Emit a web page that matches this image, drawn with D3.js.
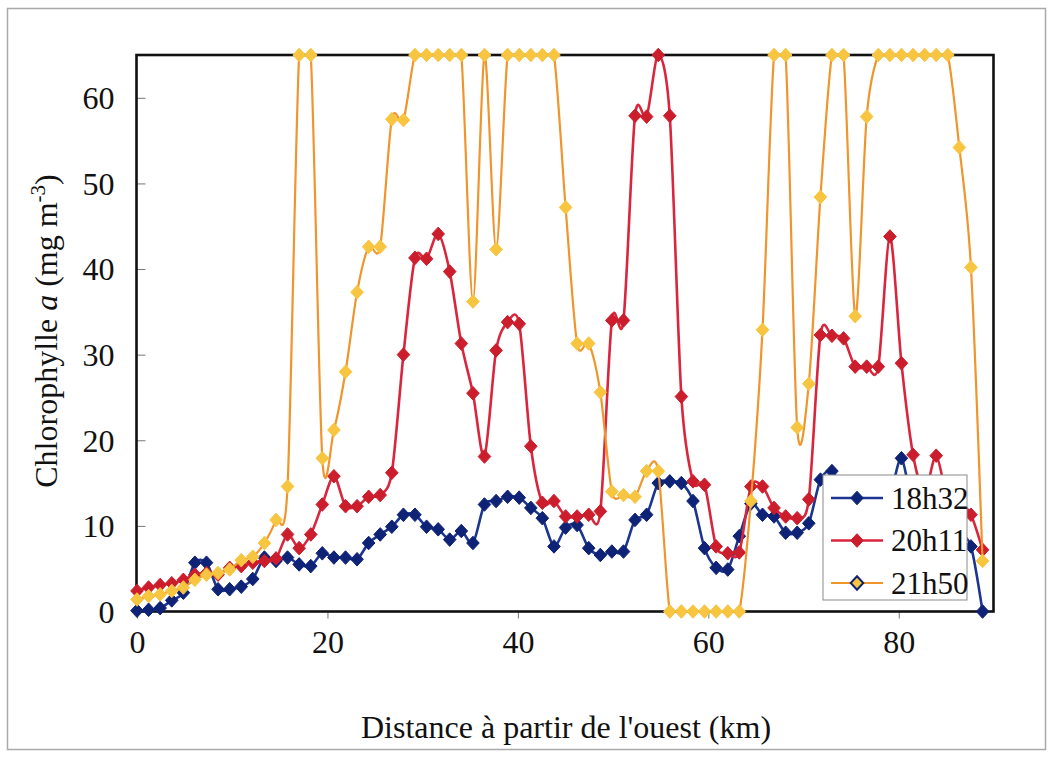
<!DOCTYPE html>
<html>
<head>
<meta charset="utf-8">
<script src="https://cdn.jsdelivr.net/npm/d3@7"></script>
<style>
  html, body { margin: 0; padding: 0; background: #ffffff; }
  svg { display: block; }
  text { font-family: "Liberation Serif", "Times New Roman", serif; fill: #111; }
</style>
</head>
<body>
<svg id="chart" width="1053" height="758"></svg>
<script>
// Sampling stations along the transect (km from the western end)
const distanceKm = [
  0, 1.22, 2.43, 3.65, 4.87, 6.08, 7.30, 8.51, 9.73, 10.95,
  12.16, 13.38, 14.60, 15.81, 17.03, 18.25, 19.46, 20.68, 21.90, 23.11,
  24.33, 25.54, 26.76, 27.98, 29.19, 30.41, 31.63, 32.84, 34.06, 35.28,
  36.49, 37.71, 38.92, 40.14, 41.36, 42.57, 43.79, 45.01, 46.22, 47.44,
  48.66, 49.87, 51.09, 52.30, 53.52, 54.74, 55.95, 57.17, 58.39, 59.60,
  60.82, 62.04, 63.25, 64.47, 65.69, 66.90, 68.12, 69.33, 70.55, 71.77,
  72.98, 74.20, 75.42, 76.63, 77.85, 79.07, 80.28, 81.50, 82.72, 83.93,
  85.15, 86.36, 87.58, 88.80
];

// Chlorophyll a (mg m-3), one array per passage time
const chl1832 = [
  0.1, 0.2, 0.4, 1.3, 2.2, 5.7, 5.7, 2.6, 2.6, 2.9,
  3.8, 6.3, 5.9, 6.3, 5.5, 5.3, 6.8, 6.3, 6.3, 6.1,
  8.0, 9.0, 9.9, 11.3, 11.3, 9.9, 9.6, 8.4, 9.4, 8.0,
  12.5, 12.9, 13.4, 13.3, 12.1, 10.9, 7.6, 9.8, 10.1, 7.4,
  6.6, 7.0, 7.0, 10.7, 11.3, 15.0, 15.2, 15.0, 12.9, 7.4,
  5.1, 4.9, 8.8, 12.6, 11.3, 11.1, 9.2, 9.2, 10.3, 15.4,
  16.4, 14.0, 12.5, 12.0, 12.5, 13.5, 17.9, 12.0, 10.0, 11.0,
  9.5, 9.0, 7.6, 0.0
];
const chl2011 = [
  2.4, 2.8, 3.1, 3.3, 3.7, 4.3, 4.5, 4.3, 5.1, 5.3,
  5.7, 5.9, 6.2, 9.0, 7.4, 9.0, 12.5, 15.8, 12.3, 12.3,
  13.4, 13.6, 16.2, 30.0, 41.3, 41.2, 44.1, 39.7, 31.3, 25.5,
  18.1, 30.5, 33.8, 33.6, 19.3, 12.7, 12.9, 11.1, 11.1, 11.3,
  11.7, 34.0, 34.0, 57.9, 57.8, 65.0, 57.9, 25.1, 15.2, 14.8,
  7.6, 6.8, 6.9, 14.6, 14.6, 12.1, 11.1, 10.9, 13.1, 32.3,
  32.2, 31.9, 28.6, 28.6, 28.6, 43.8, 29.0, 18.3, 14.0, 18.2,
  13.0, 12.8, 11.3, 7.2
];
const chl2150 = [
  1.4, 1.8, 2.0, 2.4, 2.8, 3.7, 4.3, 4.5, 4.9, 6.0,
  6.4, 8.0, 10.7, 14.6, 65, 65, 17.9, 21.2, 28.0, 37.3,
  42.6, 42.6, 57.5, 57.4, 65, 65, 65, 65, 65, 36.2,
  65, 42.3, 65, 65, 65, 65, 65, 47.2, 31.3, 31.3,
  25.6, 14.0, 13.6, 13.4, 16.4, 16.4, 0, 0, 0, 0,
  0, 0, 0, 12.9, 32.9, 65, 65, 21.5, 26.6, 48.4,
  65, 65, 34.5, 57.8, 65, 65, 65, 65, 65, 65,
  65, 54.2, 40.2, 5.9
];

const seriesNames = ["18h32", "20h11", "21h50"];
const xTicks = [0, 20, 40, 60, 80];
const yTicks = [0, 10, 20, 30, 40, 50, 60];

const styles = {
  "18h32": { line: "#1b3591", fill: "#0f2376", stroke: "#0f2376", width: 2.6 },
  "20h11": { line: "#d9263c", fill: "#cc1d2d", stroke: "#cc1d2d", width: 2.6 },
  "21h50": { line: "#f0952c", fill: "#f8c540", stroke: "#f8c540", width: 2.2 }
};

const series = [
  { name: seriesNames[0], values: chl1832 },
  { name: seriesNames[1], values: chl2011 },
  { name: seriesNames[2], values: chl2150 }
];

const svg = d3.select("#chart");
const plot = { left: 136.5, top: 55, right: 993.5, bottom: 611.5 };

const x = d3.scaleLinear().domain([0, 90]).range([137, 994]);
const y = d3.scaleLinear().domain([0, 65]).range([plot.bottom, plot.top]);

// outer frame of the figure
svg.append("rect")
  .attr("x", 7.5).attr("y", 8.5).attr("width", 1038).attr("height", 741)
  .attr("fill", "#fff").attr("stroke", "#a9a9a9").attr("stroke-width", 1.5);

// clip for the curves
svg.append("clipPath").attr("id", "plotClip")
  .append("rect")
  .attr("x", plot.left).attr("y", plot.top - 1)
  .attr("width", plot.right - plot.left).attr("height", plot.bottom - plot.top + 1);

// y axis ticks (inside) and labels
const yAxis = d3.axisLeft(y).tickValues(yTicks).tickSize(-9).tickPadding(22).tickFormat(d3.format("d"));
const gy = svg.append("g").attr("transform", `translate(${plot.left},0)`).call(yAxis);
gy.select(".domain").remove();
gy.selectAll(".tick line").attr("stroke", "#777").attr("stroke-width", 1);
gy.selectAll(".tick text").attr("font-size", 32).attr("font-family", "Liberation Serif").attr("fill", "#111").attr("dy", "0.34em");

// x axis ticks (outside) and labels
const xAxis = d3.axisBottom(x).tickValues(xTicks).tickSize(7).tickPadding(12).tickFormat(d3.format("d"));
const gx = svg.append("g").attr("transform", `translate(0,${plot.bottom})`).call(xAxis);
gx.select(".domain").remove();
gx.selectAll(".tick line").attr("stroke", "#777").attr("stroke-width", 1);
gx.selectAll(".tick text").attr("font-size", 32).attr("font-family", "Liberation Serif").attr("fill", "#111").attr("dy", "0.71em");

// plot area border
svg.append("rect")
  .attr("x", plot.left).attr("y", plot.top)
  .attr("width", plot.right - plot.left).attr("height", plot.bottom - plot.top)
  .attr("fill", "none").attr("stroke", "#111").attr("stroke-width", 2.6);

// smoothed lines through every station
const line = d3.line()
  .x((d, i) => x(distanceKm[i]))
  .y(d => y(d))
  .curve(d3.curveCardinal.tension(0.15));

const diamond = "M0,-6.8L6.3,0L0,6.8L-6.3,0Z";

series.forEach(s => {
  const st = styles[s.name];
  const g = svg.append("g").attr("class", "series");
  g.append("path")
    .attr("d", line(s.values))
    .attr("fill", "none")
    .attr("stroke", st.line)
    .attr("stroke-width", st.width)
    .attr("stroke-linejoin", "round")
    .attr("clip-path", "url(#plotClip)");
  g.selectAll("path.pt")
    .data(s.values)
    .join("path")
    .attr("class", "pt")
    .attr("d", diamond)
    .attr("transform", (d, i) => `translate(${x(distanceKm[i])},${y(d)})`)
    .attr("fill", st.fill)
    .attr("stroke", st.stroke)
    .attr("stroke-width", 1);
});

// legend
const lg = svg.append("g").attr("transform", "translate(823,475)");
lg.append("rect").attr("x", 0).attr("y", 0).attr("width", 144).attr("height", 125)
  .attr("fill", "#fff").attr("stroke", "#8a8a8a").attr("stroke-width", 1);
seriesNames.forEach((name, k) => {
  const st = styles[name];
  const cy = 23 + k * 42.5;
  lg.append("line").attr("x1", 8).attr("x2", 60).attr("y1", cy).attr("y2", cy)
    .attr("stroke", st.line).attr("stroke-width", st.width);
  lg.append("path").attr("d", diamond).attr("transform", `translate(34,${cy})`)
    .attr("fill", st.fill)
    .attr("stroke", name === "21h50" ? "#0f2376" : st.stroke)
    .attr("stroke-width", name === "21h50" ? 2 : 1);
  lg.append("text").attr("x", 68).attr("y", cy).attr("dy", "0.35em")
    .attr("font-size", 31).text(name);
});

// axis titles
svg.append("text")
  .attr("x", 566).attr("y", 738)
  .attr("text-anchor", "middle")
  .attr("font-size", 32)
  .text("Distance à partir de l'ouest (km)");

const yt = svg.append("text")
  .attr("transform", "translate(57,331) rotate(-90)")
  .attr("text-anchor", "middle")
  .attr("font-size", 32);
yt.append("tspan").text("Chlorophylle ");
yt.append("tspan").attr("font-style", "italic").text("a");
yt.append("tspan").text(" (mg m");
yt.append("tspan").attr("font-size", 21).attr("dy", -12).text("-3");
yt.append("tspan").attr("dy", 12).text(")");
</script>
</body>
</html>
